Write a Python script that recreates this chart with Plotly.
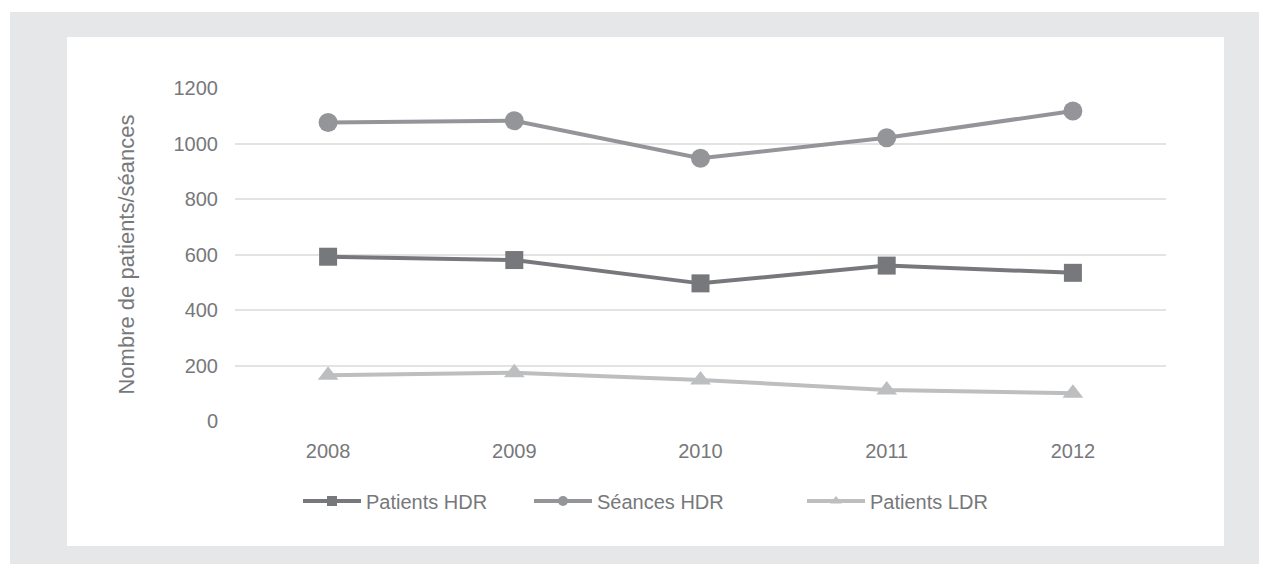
import plotly.graph_objects as go

years = ["2008", "2009", "2010", "2011", "2012"]
patients_hdr = [592, 580, 496, 560, 534]
seances_hdr = [1076, 1082, 947, 1021, 1117]
patients_ldr = [165, 174, 148, 112, 100]
y_ticks = [0, 200, 400, 600, 800, 1000, 1200]

OFF = 8  # page body margin
W, H = 1267, 564 - OFF
L, R, T, B = 235 - OFF, 1166 - OFF, 88 - OFF, 421 - OFF  # plot area in figure pixels

def px(x):
    return (x - OFF - L) / (R - L)

def py(y):
    return (B - (y - OFF)) / (B - T)

FONT = "Liberation Sans"
TXT = "#77787b"

fig = go.Figure()
series = [
    ("Patients HDR", patients_hdr, "#77787b", "square", 18, "legend"),
    ("Séances HDR", seances_hdr, "#939598", "circle", 19, "legend2"),
    ("Patients LDR", patients_ldr, "#bcbec0", "triangle-up", 18, "legend3"),
]
for name, vals, col, sym, sz, lg in series:
    fig.add_trace(go.Scatter(
        x=years, y=vals, name=name, mode="lines+markers",
        line=dict(color=col, width=4),
        marker=dict(color=col, symbol=sym, size=sz),
        showlegend=False,
    ))
    # legend entry with smaller marker, as in the original
    fig.add_trace(go.Scatter(
        x=[None], y=[None], name=name, mode="lines+markers",
        line=dict(color=col, width=4),
        marker=dict(color=col, symbol=sym, size=10),
        legend=lg, showlegend=True,
    ))

def leg(xpix):
    return dict(
        x=(xpix - OFF) / W, xref="container", y=(H - (501 - OFF)) / H, yref="container",
        xanchor="left", yanchor="middle", orientation="h",
        font=dict(family=FONT, size=20, color=TXT),
        bgcolor="rgba(0,0,0,0)", itemwidth=58,
    )

fig.update_layout(
    width=W, height=H,
    margin=dict(l=L, r=W - R, t=T, b=H - B, pad=0),
    paper_bgcolor="white", plot_bgcolor="white",
    showlegend=True,
    legend=leg(298), legend2=leg(529), legend3=leg(802),
    font=dict(family=FONT, size=20, color=TXT),
    xaxis=dict(
        type="category", range=[-0.5, 4.5], showgrid=False, zeroline=False,
        showline=False, ticks="", tickfont=dict(family=FONT, size=20, color=TXT),
        ticklabelstandoff=16,
    ),
    yaxis=dict(
        range=[0, 1200], tickvals=y_ticks, showgrid=True, gridcolor="#e3e3e3",
        gridwidth=2, zeroline=False, showline=False, ticks="",
        tickfont=dict(family=FONT, size=20, color=TXT), ticklabelstandoff=16,
        title=dict(text="Nombre de patients/séances", font=dict(family=FONT, size=22, color=TXT),
                   standoff=32),
    ),
    shapes=[
        dict(type="rect", xref="paper", yref="paper", x0=px(10), x1=px(1290), y0=py(580), y1=py(12),
             fillcolor="#e6e7e8", line=dict(width=0), layer="below"),
        dict(type="rect", xref="paper", yref="paper", x0=px(67), x1=px(1224), y0=py(546), y1=py(37),
             fillcolor="white", line=dict(width=0), layer="below"),
    ],
)

fig.write_html("out.html")
